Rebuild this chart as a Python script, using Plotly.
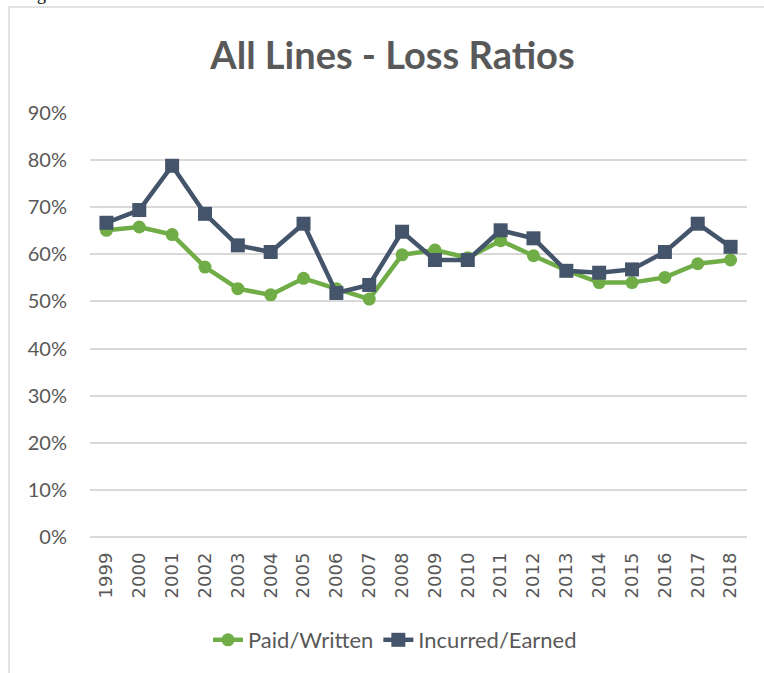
import plotly.graph_objects as go

# data
YEARS = [str(y) for y in range(1999, 2019)]
PAID_WRITTEN = [0.651, 0.658, 0.642, 0.573, 0.527, 0.514, 0.549, 0.527, 0.505, 0.599,
                0.609, 0.593, 0.629, 0.597, 0.566, 0.540, 0.540, 0.551, 0.580, 0.588]
INCURRED_EARNED = [0.667, 0.694, 0.788, 0.686, 0.619, 0.605, 0.665, 0.518, 0.535, 0.648,
                   0.588, 0.588, 0.651, 0.634, 0.565, 0.561, 0.568, 0.605, 0.665, 0.616]

GREEN = "#70AD47"
NAVY = "#44546A"
TEXT = "#595959"
GRID = "#D9D9D9"

W, H = 764, 673
L, R, T, B = 90, 17, 113, 136


def px_to_paper_x(px):
    return (px - L) / (W - L - R)


def px_to_paper_y(py):
    return (H - B - py) / (H - T - B)


fig = go.Figure()
fig.add_trace(go.Scatter(
    x=YEARS, y=PAID_WRITTEN, name="Paid/Written", mode="lines+markers",
    line=dict(color=GREEN, width=4.5),
    marker=dict(symbol="circle", size=13, color=GREEN),
))
fig.add_trace(go.Scatter(
    x=YEARS, y=INCURRED_EARNED, name="Incurred/Earned", mode="lines+markers",
    line=dict(color=NAVY, width=4.5),
    marker=dict(symbol="square", size=14, color=NAVY),
))

fig.update_layout(
    width=W, height=H,
    paper_bgcolor="white", plot_bgcolor="white",
    margin=dict(l=L, r=R, t=T, b=B, autoexpand=False),
    font=dict(family="Lato, sans-serif", color=TEXT, size=20),
    title=dict(
        text="<b>All Lines - Loss Ratios</b>",
        font=dict(family="Lato, sans-serif", size=38, color=TEXT),
        x=392.5 / W, xanchor="center",
        y=1 - 56 / H, yanchor="middle",
    ),
    showlegend=True,
    legend=dict(
        orientation="h", x=px_to_paper_x(395), xanchor="center",
        y=px_to_paper_y(640), yanchor="middle",
        font=dict(family="Lato, sans-serif", size=22, color=TEXT),
        bgcolor="rgba(0,0,0,0)",
    ),
    shapes=[dict(
        type="rect", xref="paper", yref="paper", layer="below",
        x0=px_to_paper_x(9), x1=px_to_paper_x(W + 10),
        y0=px_to_paper_y(H + 10), y1=px_to_paper_y(7),
        line=dict(color=GRID, width=1.5), fillcolor="rgba(0,0,0,0)",
    )],
    annotations=[dict(
        text="Figure 3", xref="paper", yref="paper", showarrow=False,
        x=px_to_paper_x(20), xanchor="left",
        y=px_to_paper_y(6), yanchor="bottom",
        font=dict(family="Liberation Serif, serif", size=18, color="black"),
    )],
)

fig.update_xaxes(
    type="category", range=[-0.5, len(YEARS) - 0.5],
    showgrid=False, zeroline=False, showline=False, ticks="",
    tickangle=-90, ticklabelstandoff=11,
    tickfont=dict(family="DejaVu Sans, sans-serif", size=18, color=TEXT),
)
fig.update_yaxes(
    range=[0, 0.9], dtick=0.1, tickformat=".0%",
    showgrid=True, gridcolor=GRID, gridwidth=1.5,
    zeroline=True, zerolinecolor=GRID, zerolinewidth=1.5,
    showline=False, ticks="", ticklabelstandoff=22,
    tickfont=dict(family="Lato, sans-serif", size=20, color=TEXT),
)

# the page's default body margin would push the chart 8px off
fig.write_html("out.html", config={"displayModeBar": False},
               post_script="document.body.style.margin='0';")
